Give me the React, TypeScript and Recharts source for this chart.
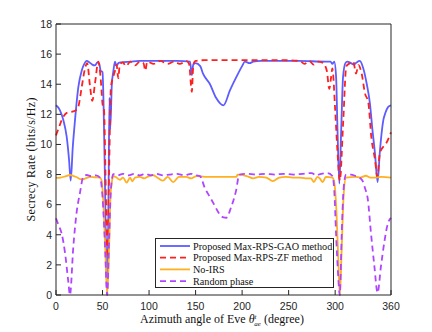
import { LineChart, Line, XAxis, YAxis, Legend } from 'recharts';

type Pt = [number, number];

const xTicks = [0, 50, 100, 150, 200, 250, 300, 360];
const yTicks = [0, 2, 4, 6, 8, 10, 12, 14, 16, 18];

// [azimuth angle (deg), secrecy rate (bits/s/Hz)]
const gaoCurve: Pt[] = [
  [0, 12.6], [4, 12.3], [8, 11.6], [11.5, 10.5], [14, 9], [15.8, 7.6], [18, 9.8], [20.4, 11.6],
  [24, 13.8], [27.6, 14.9], [30, 15.3], [33, 15.55], [36, 15.45], [39, 15.3], [42, 15.25],
  [44.5, 15.45], [46.5, 15.35], [48, 14.9], [50, 14.8], [51, 13], [52.5, 8], [54, 2], [55.2, 0.5],
  [56.5, 7], [57.5, 13.1], [58.3, 11], [60, 14], [61.5, 14.8], [63.4, 15.5], [65, 15.2], [67, 15.4],
  [70, 15.45], [80, 15.5], [90, 15.55], [110, 15.55], [130, 15.55], [144, 15.5], [146, 14.6],
  [147.5, 15.3], [150, 15.4], [155, 15.2], [158, 14.7], [165.5, 14.0], [172, 13.1], [180, 12.6],
  [187, 13.6], [194, 14.5], [200, 15.2], [203, 15.5], [208, 15.4], [212, 15.5], [220, 15.55],
  [260, 15.55], [290, 15.5], [295, 15.5], [297, 15.35], [299, 15.5], [301, 14.5], [302.5, 11],
  [304.5, 7.4], [306.5, 11], [308.5, 14.5], [311, 15.4], [313, 15.5], [317, 15.4], [320, 15.3],
  [323, 15.45], [326.5, 15.55], [330, 15.1], [334, 14], [337.4, 12.7], [340, 11], [342.8, 9.4],
  [345.6, 7.5], [348, 9.5], [351.7, 11.6], [354, 12.1], [357, 12.5], [360, 12.6],
];

const zfCurve: Pt[] = [
  [0, 10.6], [3, 11.1], [6, 11.6], [11.5, 12.1], [18.6, 12.2], [22, 12.3], [24, 12.5], [27.6, 13.8],
  [31, 15], [33.5, 15.4], [36.5, 13.9], [39, 12.9], [42, 14.1], [45.5, 15.5], [48, 14.4], [50, 12.7],
  [51.6, 12.3], [53.5, 7], [55.2, 2.5], [57, 8], [59, 13.8], [61.6, 14.5], [63.4, 14.9], [65, 15.3],
  [67, 14.4], [68.5, 15.3], [72, 15.45], [75, 15.2], [80, 15.5], [85, 15.25], [90, 15.5], [94, 15.4],
  [96, 14.9], [98, 15.5], [105, 15.35], [112, 15.55], [120, 15.35], [127, 15.5], [133, 15.35],
  [140, 15.55], [143, 15.35], [146, 13.5], [147.5, 15.3], [150, 15.55], [160, 15.6], [200, 15.6],
  [240, 15.6], [262, 15.55], [267, 15.35], [272, 15.55], [277, 15.3], [282, 15.5], [287, 15.4],
  [291, 14.9], [293.7, 13.7], [295.5, 14.4], [297, 15.05], [300, 12.3], [302.5, 9.5], [305, 7.6],
  [308.7, 11.6], [312, 15.2], [316, 15.4], [319.5, 15.5], [322.4, 14.7], [325, 15.27], [328.5, 14.7],
  [332, 13.4], [335.6, 12.8], [339, 10.4], [342.8, 9], [345.3, 7.86], [348, 9.4], [351.7, 9.85],
  [355, 10.1], [360, 10.8],
];

const noIrsCurve: Pt[] = [
  [0, 7.78], [5, 7.8], [10, 7.88], [15, 7.97], [19, 7.9], [22, 7.84], [26, 7.7], [29, 7.68], [33, 7.78],
  [37, 7.85], [42, 7.82], [47, 7.8], [49, 7.6], [51, 6], [53, 3], [55, 0], [57, 3], [58.5, 6.5],
  [60, 7.5], [61.6, 7.9], [65, 7.8], [68.8, 7.65], [72, 7.8], [76, 7.46], [79.5, 7.8], [82, 7.55],
  [85, 7.8], [90, 7.85], [95, 7.75], [100, 7.9], [104, 7.97], [110, 7.75], [115, 7.6], [120, 7.85],
  [126, 7.5], [132, 7.85], [140, 7.85], [145, 7.75], [151, 7.9], [160, 7.85], [194, 7.85], [195, 8.0],
  [205, 7.9], [212, 7.75], [218, 7.85], [226, 7.8], [233, 7.57], [240, 7.8], [247, 7.85], [254, 7.8],
  [261, 7.8], [268, 7.75], [274, 7.75], [277, 7.5], [281, 7.85], [284, 7.7], [286.6, 7.5], [290, 7.85],
  [297, 7.8], [299, 7.5], [301, 6], [303, 3], [305, 0], [307, 3], [309, 6.5], [311.6, 7.8], [322, 7.85],
  [327, 7.8], [333, 7.92], [338, 7.8], [344, 7.8], [350, 7.85], [360, 7.8],
];

const randomCurve: Pt[] = [
  [0, 5.1], [3, 4.6], [6, 4.1], [9.7, 2.8], [13.2, 0.9], [15, 0], [18.6, 3.2], [22, 5.4], [25.8, 6.8],
  [29.3, 7.85], [33, 7.97], [38, 7.9], [43, 7.95], [47.3, 7.8], [50, 6.5], [52.5, 3.5], [55, 0],
  [57, 3.5], [59, 7], [61.6, 8.03], [66, 7.95], [72, 8.05], [78, 7.95], [84, 8.05], [90, 7.95],
  [96, 8.05], [102, 7.95], [108, 8.05], [115, 7.95], [122, 8.0], [130, 8.05], [138, 7.95], [145, 8.05],
  [151, 7.95], [154.7, 7.9], [160, 7.1], [165.5, 6.5], [170, 6.0], [174.4, 5.5], [180, 5.15],
  [183, 5.13], [188, 5.8], [193.4, 6.9], [197, 8.0], [205, 8.05], [215, 8.0], [225, 8.05], [235, 8.0],
  [245, 8.05], [255, 8.0], [265, 8.05], [275, 8.1], [279, 7.95], [285, 8.05], [292, 8.1], [297, 7.9],
  [299, 7], [301, 4], [303, 1.5], [305, 0], [307, 4], [309, 7], [311.6, 8.0], [317, 8.0], [322, 7.9],
  [326, 7.8], [329.6, 7.57], [332, 7.1], [335, 6.4], [338.5, 4.1], [342, 2.0], [345.6, 0.15],
  [349.2, 1.9], [352.8, 3.5], [356.4, 4.7], [360, 5.13],
];

const toRows = (pts: Pt[]) => pts.map(([angle, rate]) => ({ angle, rate }));

const series = [
  { name: 'Proposed Max-RPS-GAO method', color: '#5c5cff', dash: undefined, pts: gaoCurve },
  { name: 'Proposed Max-RPS-ZF method', color: '#ff1f1f', dash: '6 4', pts: zfCurve },
  { name: 'No-IRS', color: '#ffb020', dash: undefined, pts: noIrsCurve },
  { name: 'Random phase', color: '#b045ff', dash: '6 4', pts: randomCurve },
];

const axisColor = '#262626';
const tickFont = { fontSize: 10.5, fontFamily: '"Liberation Sans", Arial, sans-serif', fill: axisColor };
const serif = '"Liberation Serif", "DejaVu Serif", serif';

function LegendBox() {
  return (
    <svg width={180} height={51} style={{ display: 'block' }}>
      <rect x={0.5} y={0.5} width={178} height={49} fill="#fff" stroke={axisColor} strokeWidth={1} />
      {series.map((s, i) => {
        const cy = 8 + i * 11.7;
        return (
          <g key={s.name}>
            <line x1={5} x2={35} y1={cy} y2={cy} stroke={s.color} strokeWidth={1.8} strokeDasharray={s.dash} />
            <text x={38} y={cy + 3.5} fontSize={10.2} fontFamily={serif} fill="#111">
              {s.name}
            </text>
          </g>
        );
      })}
    </svg>
  );
}

export default function App() {
  return (
    <div style={{ position: 'absolute', left: 0, top: 0, width: 432, height: 332, background: '#fff' }}>
      <LineChart width={432} height={332} margin={{ top: 23, right: 40, bottom: 36, left: 55 }}>
        <XAxis
          dataKey="angle"
          type="number"
          domain={[0, 360]}
          ticks={xTicks}
          height={1}
          tickSize={-5}
          tickMargin={13}
          tick={tickFont}
          axisLine={{ stroke: axisColor }}
          tickLine={{ stroke: axisColor }}
          allowDuplicatedCategory={false}
        />
        <XAxis
          xAxisId="top"
          orientation="top"
          dataKey="angle"
          type="number"
          domain={[0, 360]}
          ticks={xTicks}
          height={1}
          tickSize={-5}
          tick={false}
          axisLine={{ stroke: axisColor }}
          tickLine={{ stroke: axisColor }}
        />
        <YAxis
          type="number"
          domain={[0, 18]}
          ticks={yTicks}
          width={1}
          tickSize={-5}
          tickMargin={9}
          tick={tickFont}
          axisLine={{ stroke: axisColor }}
          tickLine={{ stroke: axisColor }}
        />
        <YAxis
          yAxisId="right"
          orientation="right"
          type="number"
          domain={[0, 18]}
          ticks={yTicks}
          width={1}
          tickSize={-5}
          tick={false}
          axisLine={{ stroke: axisColor }}
          tickLine={{ stroke: axisColor }}
        />
        {series.map((s) => (
          <Line
            key={s.name}
            name={s.name}
            data={toRows(s.pts)}
            dataKey="rate"
            type="monotone"
            stroke={s.color}
            strokeWidth={1.8}
            strokeDasharray={s.dash}
            dot={false}
            activeDot={false}
            isAnimationActive={false}
          />
        ))}
        <Legend
          layout="horizontal"
          verticalAlign="middle"
          align="center"
          wrapperStyle={{ position: 'absolute', left: 155, top: 238, width: 180, height: 51 }}
          content={() => <LegendBox />}
        />
      </LineChart>
      <svg
        width={432}
        height={332}
        style={{ position: 'absolute', left: 0, top: 0, pointerEvents: 'none' }}
      >
        <text
          transform="translate(35,159.5) rotate(-90)"
          textAnchor="middle"
          fontSize={12}
          fontFamily={serif}
          fill="#111"
          textLength={124}
          lengthAdjust="spacing"
        >
          Secrecy Rate (bits/s/Hz)
        </text>
        <text x={140} y={323} fontSize={12} fontFamily={serif} fill="#111">
          Azimuth angle of Eve{' '}
          <tspan fontStyle="italic">θ</tspan>
          <tspan fontSize={7} dy={-4.5} fontStyle="italic">t</tspan>
          <tspan fontSize={7} dx={-2.2} dy={7} fontStyle="italic">ae</tspan>
          <tspan dy={-2.5}> (degree)</tspan>
        </text>
      </svg>
    </div>
  );
}
